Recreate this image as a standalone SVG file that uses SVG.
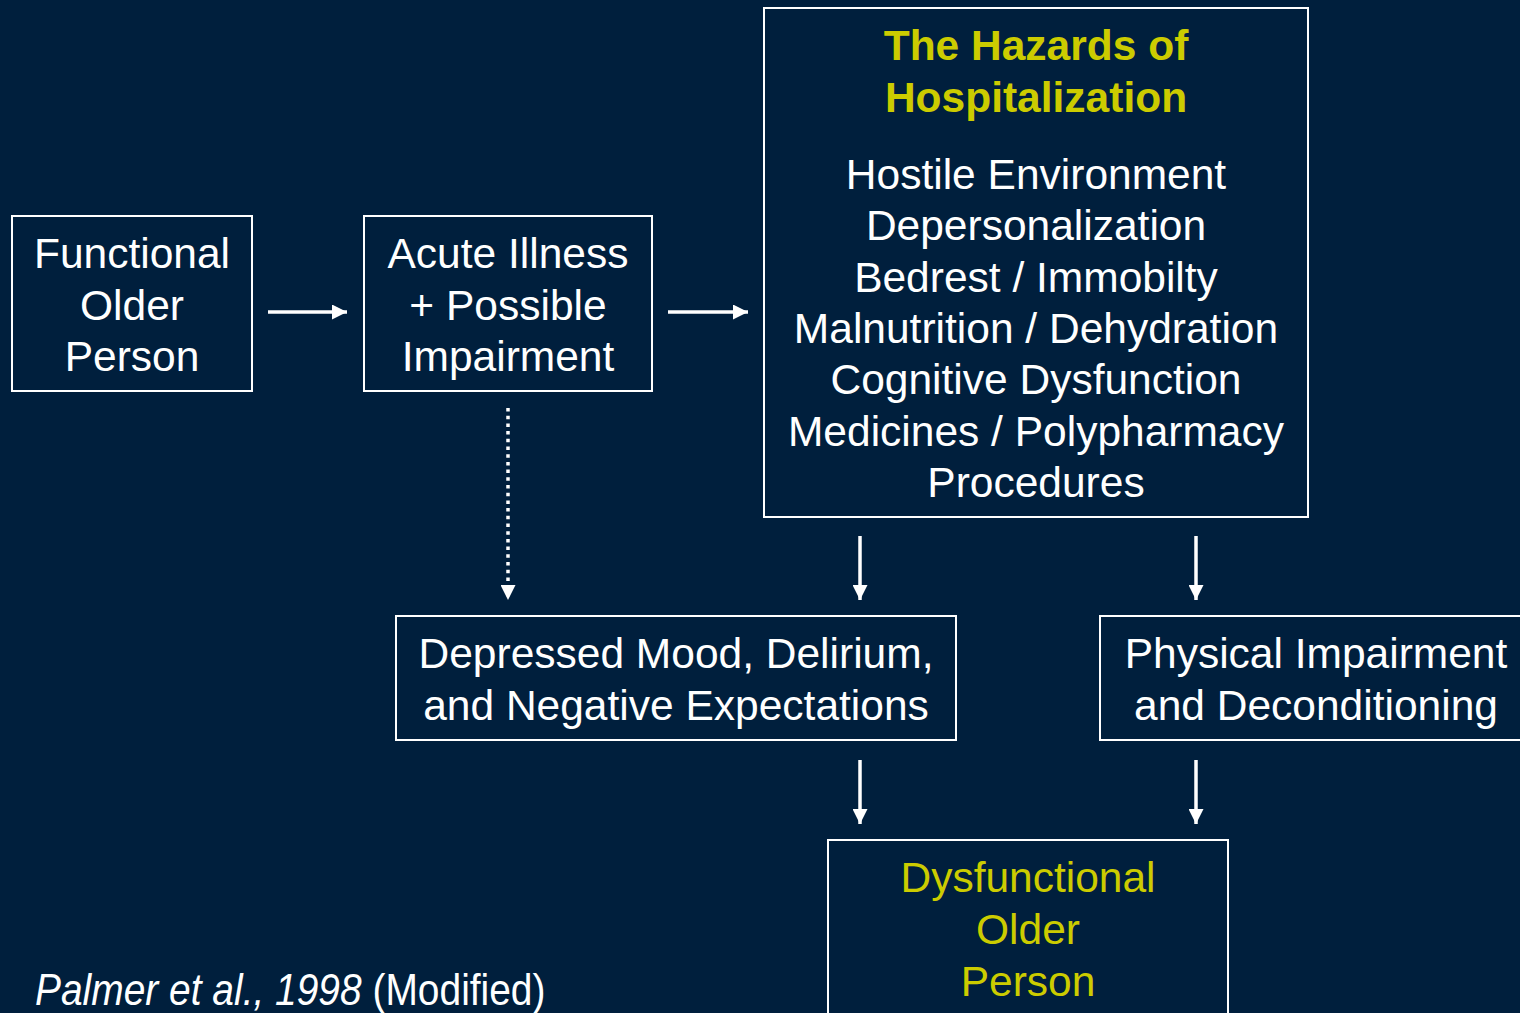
<svg xmlns="http://www.w3.org/2000/svg" width="1520" height="1013" viewBox="0 0 1520 1013">
<defs>
<style>
.box{fill:none;stroke:#fff;stroke-width:2}
.t{font-family:"Liberation Sans",Arial,sans-serif;font-size:42.5px;fill:#fff;text-anchor:middle}
.y{fill:#CCCC00}
.b{font-weight:bold}
.ln{stroke:#fff;stroke-width:3.5;fill:none}
.dot{stroke-dasharray:3.5 4.2}
.cite{font-family:"Liberation Sans",Arial,sans-serif;font-size:45px;fill:#fff}
</style>
<marker id="ah" viewBox="0 0 10 10" refX="10" refY="5" markerWidth="16" markerHeight="15" markerUnits="userSpaceOnUse" orient="auto">
<path d="M0,0 L10,5 L0,10 Z" fill="#fff"/>
</marker>
</defs>
<rect width="1520" height="1013" fill="#001F3D"/>
<g id="n-functional">
<rect class="box" x="12" y="216" width="240" height="175"/>
<text class="t" x="132" y="268">Functional</text>
<text class="t" x="132" y="320">Older</text>
<text class="t" x="132" y="371">Person</text>
</g>
<g id="n-acute">
<rect class="box" x="364" y="216" width="288" height="175"/>
<text class="t" x="508" y="268">Acute Illness</text>
<text class="t" x="508" y="320">+ Possible</text>
<text class="t" x="508" y="371">Impairment</text>
</g>
<g id="n-hazards">
<rect class="box" x="764" y="8" width="544" height="509"/>
<text class="t y b" x="1036" y="60">The Hazards of</text>
<text class="t y b" x="1036" y="112">Hospitalization</text>
<text class="t" x="1036" y="189">Hostile Environment</text>
<text class="t" x="1036" y="240">Depersonalization</text>
<text class="t" x="1036" y="292">Bedrest / Immobilty</text>
<text class="t" x="1036" y="343">Malnutrition / Dehydration</text>
<text class="t" x="1036" y="394">Cognitive Dysfunction</text>
<text class="t" x="1036" y="446">Medicines / Polypharmacy</text>
<text class="t" x="1036" y="497">Procedures</text>
</g>
<g id="n-depressed">
<rect class="box" x="396" y="616" width="560" height="124"/>
<text class="t" x="676" y="668">Depressed Mood, Delirium,</text>
<text class="t" x="676" y="720">and Negative Expectations</text>
</g>
<g id="n-physical">
<rect class="box" x="1100" y="616" width="430" height="124"/>
<text class="t" x="1316" y="668">Physical Impairment</text>
<text class="t" x="1316" y="720">and Deconditioning</text>
</g>
<g id="n-dysfunctional">
<rect class="box" x="828" y="840" width="400" height="185"/>
<text class="t y" x="1028" y="892">Dysfunctional</text>
<text class="t y" x="1028" y="944">Older</text>
<text class="t y" x="1028" y="996">Person</text>
</g>
<g id="connectors">
<line class="ln" x1="268" y1="312" x2="347" y2="312" marker-end="url(#ah)"/>
<line class="ln" x1="668" y1="312" x2="748" y2="312" marker-end="url(#ah)"/>
<line class="ln dot" x1="508" y1="408" x2="508" y2="600" marker-end="url(#ah)"/>
<line class="ln" x1="860" y1="536" x2="860" y2="600" marker-end="url(#ah)"/>
<line class="ln" x1="1196" y1="536" x2="1196" y2="600" marker-end="url(#ah)"/>
<line class="ln" x1="860" y1="760" x2="860" y2="824" marker-end="url(#ah)"/>
<line class="ln" x1="1196" y1="760" x2="1196" y2="824" marker-end="url(#ah)"/>
</g>
<g id="citation" transform="translate(35,1005) scale(0.865,1)">
<text class="cite" x="0" y="0"><tspan font-style="italic">Palmer et al., 1998</tspan> (Modified)</text>
</g>
</svg>
